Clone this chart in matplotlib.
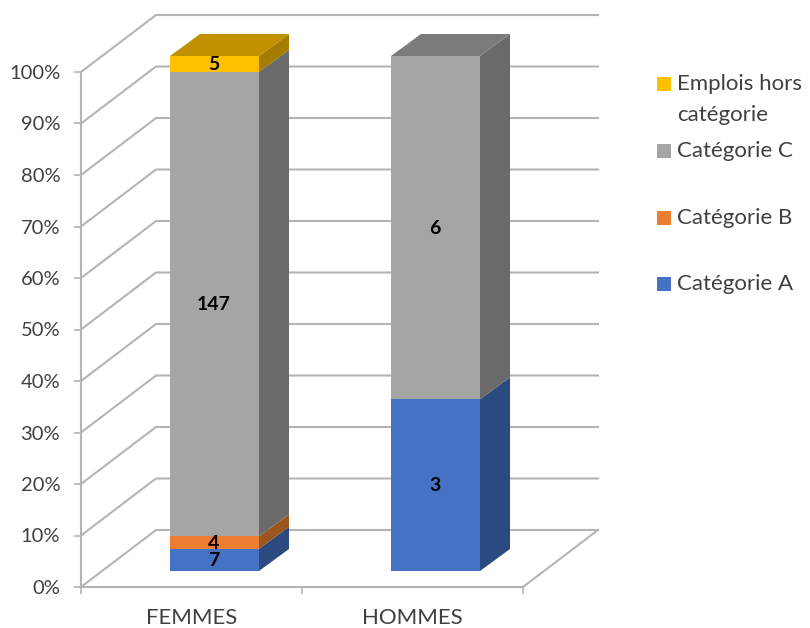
import numpy as np
import matplotlib
matplotlib.use('Agg')
import matplotlib.pyplot as plt
from matplotlib.patches import Polygon, Rectangle

plt.rcParams['font.family'] = ['Lato', 'DejaVu Sans']

categories = ['FEMMES', 'HOMMES']
series_names = ['Catégorie A', 'Catégorie B', 'Catégorie C', 'Emplois hors\ncatégorie']
cat_a = [7, 3]
cat_b = [4, 0]
cat_c = [147, 6]
hors_cat = [5, 0]
y_ticks = [0, 10, 20, 30, 40, 50, 60, 70, 80, 90, 100]

front_colors = ['#4472c4', '#ed7d31', '#a5a5a5', '#ffc000']
side_colors = ['#2b4a80', '#9c5520', '#6a6a6a', '#a67c00']
top_colors = ['#2f5597', '#b5622a', '#7b7b7b', '#c09000']
grid_color = '#b4b4b4'
text_color = '#404040'

W, H = 810, 628
fig = plt.figure(figsize=(W / 100, H / 100), dpi=100, facecolor='white')
# axes box: 0% at y=587, 100% at y=72, categories from x=81 to x=523
ax = fig.add_axes([81 / W, 1 - 587 / H, (523 - 81) / W, (587 - 72) / H])
ax.set_xlim(0, 2)
ax.set_ylim(0, 100)
ax.patch.set_visible(False)

px_x = 2 / (523 - 81)
px_y = 100 / (587 - 72)


def shift(x, y, dx_px, dy_px):
    return (x + dx_px * px_x, y + dy_px * px_y)


# back wall and floor
wall_dx, wall_dy = 75, 57
for t in y_ticks:
    x0, y0 = shift(0, t, wall_dx, wall_dy)
    x1, y1 = shift(2, t, wall_dx, wall_dy)
    ax.plot([0, x0, x1], [t, y0, y1], color=grid_color, lw=1.5, clip_on=False, zorder=1)
ax.plot([2, shift(2, 0, wall_dx, wall_dy)[0]], [0, wall_dy * px_y], color=grid_color,
        lw=1.5, clip_on=False, zorder=1)

# bars
values = np.array([cat_a, cat_b, cat_c, hors_cat], dtype=float)
percents = values / values.sum(axis=0) * 100
half_w = 44.5 * px_x
floor_dx, floor_dy = 23, 16
depth_dx, depth_dy = 30, 22

for i, cat in enumerate(categories):
    xl, base = shift(i + 0.5 - half_w, 0, floor_dx, floor_dy)
    xr = xl + 2 * half_w
    bottom = 0.0
    top_idx = max(k for k in range(4) if values[k, i] > 0)
    for k in range(4):
        if values[k, i] == 0:
            continue
        y0 = base + bottom
        y1 = y0 + percents[k, i]
        ax.add_patch(Rectangle((xl, y0), xr - xl, y1 - y0, fc=front_colors[k], ec='none',
                               clip_on=False, zorder=3))
        ax.add_patch(Polygon([(xr, y0), shift(xr, y0, depth_dx, depth_dy),
                              shift(xr, y1, depth_dx, depth_dy), (xr, y1)],
                             fc=side_colors[k], ec='none', clip_on=False, zorder=3))
        if k == top_idx:
            ax.add_patch(Polygon([(xl, y1), shift(xl, y1, depth_dx, depth_dy),
                                  shift(xr, y1, depth_dx, depth_dy), (xr, y1)],
                                 fc=top_colors[k], ec='none', clip_on=False, zorder=3))
        ax.annotate(str(int(values[k, i])), ((xl + xr) / 2, (y0 + y1) / 2), xytext=(-0.7, -0.5),
                    textcoords='offset points', ha='center', va='center', annotation_clip=False,
                    fontsize=14, fontweight='bold', color='black', zorder=5)
        bottom += percents[k, i]

# axes
for side in ['top', 'right']:
    ax.spines[side].set_visible(False)
for side in ['left', 'bottom']:
    ax.spines[side].set_color(grid_color)
    ax.spines[side].set_linewidth(1.5)
ax.set_yticks(y_ticks)
ax.set_yticklabels([f'{t}%' for t in y_ticks])
ax.set_xticks([0, 1, 2])
ax.set_xticklabels([])
ax.set_xticks([0.5, 1.5], minor=True)
ax.set_xticklabels(categories, minor=True)
ax.tick_params(axis='y', length=5, width=1.2, color=grid_color, labelcolor=text_color,
               labelsize=14.5, pad=10)
for label in ax.get_yticklabels():
    label.set_va('center_baseline')
ax.tick_params(axis='x', which='major', length=5, width=1.2, color=grid_color)
ax.tick_params(axis='x', which='minor', length=0, labelcolor=text_color, labelsize=16, pad=15)

# legend, placed by hand because the row spacing is uneven
legend_rows = [(3, 84), (2, 151), (1, 218), (0, 284)]
for k, y_px in legend_rows:
    fig.patches.append(Rectangle((657 / W, 1 - (y_px + 7) / H), 14 / W, 14 / H, fc=front_colors[k],
                                 ec='none', transform=fig.transFigure))
    name = series_names[k]
    fig.text(677 / W, 1 - y_px / H, name.split('\n')[0], ha='left', va='center',
             fontsize=16, color=text_color)
    if '\n' in name:
        fig.text(677 / W, 1 - (y_px + 31) / H, name.split('\n')[1], ha='left', va='center',
                 fontsize=16, color=text_color)

fig.savefig('out.png', dpi=100)
